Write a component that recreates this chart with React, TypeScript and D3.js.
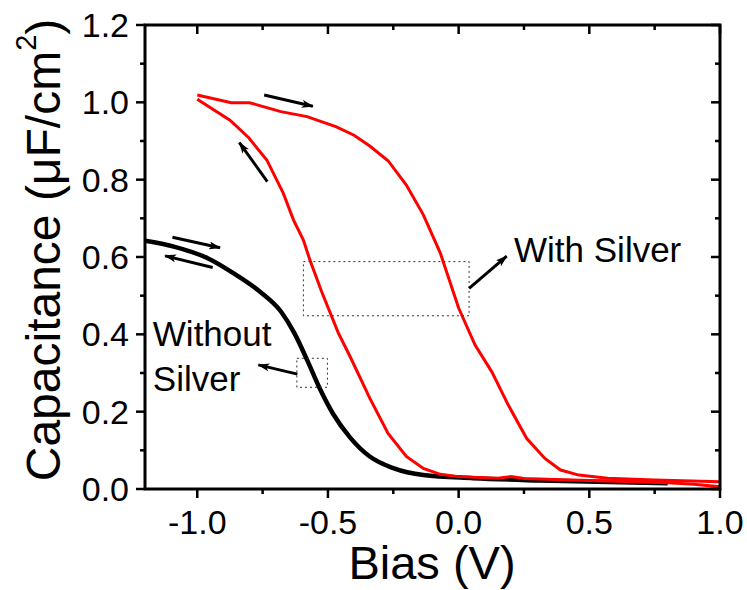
import React, { useRef, useEffect } from 'react';
import * as d3 from 'd3';

// bias (V) and capacitance (uF/cm^2)
const redForwardBias = [-1.0, -0.87, -0.8, -0.68, -0.58, -0.47, -0.4, -0.34, -0.27, -0.2, -0.135, -0.07, 0.0, 0.063, 0.127, 0.19, 0.26, 0.33, 0.39, 0.46, 0.57, 0.75, 1.0];
const redForwardCap = [1.019, 0.999, 0.999, 0.976, 0.963, 0.937, 0.915, 0.887, 0.849, 0.786, 0.709, 0.61, 0.468, 0.372, 0.303, 0.217, 0.131, 0.079, 0.049, 0.036, 0.028, 0.023, 0.019];

const redReturnBias = [1.0, 0.9, 0.8, 0.6, 0.4, 0.25, 0.2, 0.15, 0.0, -0.07, -0.135, -0.2, -0.27, -0.34, -0.415, -0.46, -0.524, -0.569, -0.594, -0.632, -0.671, -0.734, -0.804, -0.875, -1.0];
const redReturnCap = [0.006, 0.012, 0.016, 0.02, 0.024, 0.027, 0.032, 0.028, 0.032, 0.038, 0.053, 0.084, 0.144, 0.235, 0.342, 0.403, 0.51, 0.592, 0.644, 0.696, 0.765, 0.851, 0.909, 0.954, 1.008];

const blackBias = [-1.2, -1.09, -0.96, -0.85, -0.76, -0.68, -0.63, -0.58, -0.53, -0.48, -0.415, -0.34, -0.25, -0.135, 0.056, 0.31, 0.8];
const blackCap = [0.642, 0.627, 0.597, 0.553, 0.51, 0.459, 0.405, 0.334, 0.258, 0.194, 0.133, 0.084, 0.054, 0.036, 0.028, 0.022, 0.015];

const xMajorTicks = [-1.0, -0.5, 0.0, 0.5, 1.0];
const xMinorTicks = [-0.75, -0.25, 0.25, 0.75];
const yMajorTicks = [0.0, 0.2, 0.4, 0.6, 0.8, 1.0, 1.2];
const yMinorTicks = [0.1, 0.3, 0.5, 0.7, 0.9, 1.1];

// annotations in data units: [x1, y1, x2, y2]
const arrows = [
  [-0.744, 1.019, -0.558, 0.99],
  [-0.732, 0.795, -0.839, 0.896],
  [-1.095, 0.651, -0.913, 0.624],
  [-0.941, 0.573, -1.123, 0.603],
  [0.04, 0.519, 0.184, 0.602],
  [-0.617, 0.297, -0.766, 0.321],
];
const boxes = [
  [-0.594, 0.588, 0.04, 0.448],
  [-0.619, 0.338, -0.502, 0.263],
];

const font = 'Arial, "Liberation Sans", sans-serif';

const App = () => {
  const svgRef = useRef<SVGSVGElement>(null);
  const W = 747, H = 590;
  const margin = { top: 25, right: 27, bottom: 101, left: 145 };

  useEffect(() => {
    const svg = d3.select(svgRef.current);
    svg.selectAll('*').remove();

    const x = d3.scaleLinear().domain([-1.2, 1.0]).range([margin.left, W - margin.right]);
    const y = d3.scaleLinear().domain([0, 1.2]).range([H - margin.bottom, margin.top]);

    const defs = svg.append('defs');
    defs.append('clipPath').attr('id', 'plot')
      .append('rect')
      .attr('x', margin.left).attr('y', margin.top)
      .attr('width', x.range()[1] - margin.left)
      .attr('height', y.range()[0] - margin.top);
    defs.append('marker')
      .attr('id', 'head')
      .attr('markerUnits', 'userSpaceOnUse')
      .attr('viewBox', '0 0 12 8')
      .attr('refX', 11).attr('refY', 4)
      .attr('markerWidth', 12).attr('markerHeight', 8)
      .attr('orient', 'auto')
      .append('path').attr('d', 'M0,0 L12,4 L0,8 L3,4 Z').attr('fill', 'black');

    const line = d3.line<[number, number]>().x(d => x(d[0])).y(d => y(d[1]));
    const g = svg.append('g').attr('clip-path', 'url(#plot)');

    const black = blackBias.map((b, i) => [b, blackCap[i]] as [number, number]);
    g.append('path')
      .attr('d', line.curve(d3.curveMonotoneX)(black))
      .attr('fill', 'none').attr('stroke', 'black').attr('stroke-width', 4.5);

    const redF = redForwardBias.map((b, i) => [b, redForwardCap[i]] as [number, number]);
    const redR = redReturnBias.map((b, i) => [b, redReturnCap[i]] as [number, number]);
    [redF, redR].forEach(s => {
      g.append('path')
        .attr('d', line.curve(d3.curveLinear)(s))
        .attr('fill', 'none').attr('stroke', '#ff0000').attr('stroke-width', 3);
    });

    boxes.forEach(b => {
      svg.append('rect')
        .attr('x', x(b[0])).attr('y', y(b[1]))
        .attr('width', x(b[2]) - x(b[0])).attr('height', y(b[3]) - y(b[1]))
        .attr('fill', 'none').attr('stroke', '#333').attr('stroke-width', 1)
        .attr('stroke-dasharray', '2,3');
    });

    arrows.forEach(a => {
      svg.append('line')
        .attr('x1', x(a[0])).attr('y1', y(a[1]))
        .attr('x2', x(a[2])).attr('y2', y(a[3]))
        .attr('stroke', 'black').attr('stroke-width', 3)
        .attr('marker-end', 'url(#head)');
    });

    const label = (t: string, bx: number, cy: number) =>
      svg.append('text').attr('x', x(bx)).attr('y', y(cy))
        .attr('font-family', font).attr('font-size', 35).text(t);
    label('With Silver', 0.212, 0.588);
    label('Without', -1.17, 0.37);
    label('Silver', -1.17, 0.254);

    // frame
    const x0 = x.range()[0], x1 = x.range()[1], y0 = y.range()[0], y1 = y.range()[1];
    svg.append('rect')
      .attr('x', x0).attr('y', y1).attr('width', x1 - x0).attr('height', y0 - y1)
      .attr('fill', 'none').attr('stroke', 'black').attr('stroke-width', 3);

    const ticks = svg.append('g').attr('stroke', 'black').attr('stroke-width', 2.5);
    const xt = (v: number, len: number) => {
      ticks.append('line').attr('x1', x(v)).attr('x2', x(v)).attr('y1', y0).attr('y2', y0 + len);
      ticks.append('line').attr('x1', x(v)).attr('x2', x(v)).attr('y1', y1).attr('y2', y1 + len);
    };
    const yt = (v: number, len: number) => {
      ticks.append('line').attr('y1', y(v)).attr('y2', y(v)).attr('x1', x0).attr('x2', x0 - len);
      ticks.append('line').attr('y1', y(v)).attr('y2', y(v)).attr('x1', x1).attr('x2', x1 - len);
    };
    xMajorTicks.forEach(v => xt(v, 9));
    xMinorTicks.forEach(v => xt(v, 5));
    yMajorTicks.forEach(v => yt(v, 9));
    yMinorTicks.forEach(v => yt(v, 5));

    svg.append('g').selectAll('text').data(xMajorTicks).enter().append('text')
      .attr('x', d => x(d)).attr('y', 534)
      .attr('text-anchor', 'middle')
      .attr('font-family', font).attr('font-size', 34)
      .text(d => d3.format('.1f')(d).replace('−', '-'));

    svg.append('g').selectAll('text').data(yMajorTicks).enter().append('text')
      .attr('x', 129).attr('y', d => y(d) + 12)
      .attr('text-anchor', 'end')
      .attr('font-family', font).attr('font-size', 34)
      .text(d => d3.format('.1f')(d));

    svg.append('text')
      .attr('x', 432).attr('y', 579)
      .attr('text-anchor', 'middle')
      .attr('font-family', font).attr('font-size', 47)
      .text('Bias (V)');

    const yl = svg.append('text')
      .attr('transform', 'translate(60,250) rotate(-90)')
      .attr('text-anchor', 'middle')
      .attr('font-family', font).attr('font-size', 48);
    yl.append('tspan').text('Capacitance (\u03bcF/cm');
    yl.append('tspan').attr('font-size', 29).attr('dy', -24).text('2');
    yl.append('tspan').attr('dy', 24).text(')');
  }, []);

  return <svg ref={svgRef} width={W} height={H} style={{ position: 'absolute', left: 0, top: 0, background: 'white' }}></svg>;
};

export default App;
